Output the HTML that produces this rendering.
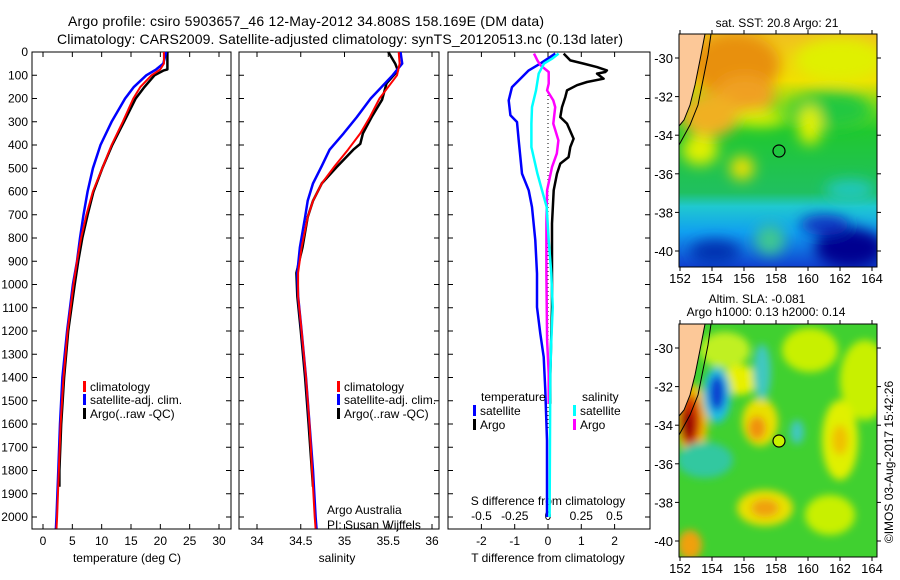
<!DOCTYPE html>
<html><head><meta charset="utf-8"><style>
html,body{margin:0;padding:0;background:#fff;}
svg{display:block;font-family:"Liberation Sans",sans-serif;}
text{fill:#000;}
</style></head><body>
<svg id="fig" width="900" height="580" viewBox="0 0 900 580" xmlns="http://www.w3.org/2000/svg">
<defs>
<filter id="bl" x="-50%" y="-50%" width="200%" height="200%"><feGaussianBlur stdDeviation="7"/></filter>
<filter id="bl2" x="-50%" y="-50%" width="200%" height="200%"><feGaussianBlur stdDeviation="4"/></filter>
<clipPath id="c1"><rect x="679" y="34" width="198" height="233"/></clipPath>
<clipPath id="c2"><rect x="679" y="324" width="198" height="233"/></clipPath>
<linearGradient id="sstg" x1="0" y1="0" x2="0" y2="1">
<stop offset="0" stop-color="#f0c020"/><stop offset="0.2" stop-color="#f0e000"/>
<stop offset="0.33" stop-color="#60d820"/><stop offset="0.42" stop-color="#20c830"/>
<stop offset="0.68" stop-color="#20c060"/><stop offset="0.74" stop-color="#20c8d0"/>
<stop offset="0.85" stop-color="#10a0f0"/><stop offset="1" stop-color="#1040d0"/>
</linearGradient>
</defs>
<text x="68" y="26" font-size="14" textLength="476">Argo profile: csiro 5903657_46 12-May-2012 34.808S 158.169E (DM data)</text>
<text x="57" y="44" font-size="14" textLength="566">Climatology: CARS2009. Satellite-adjusted climatology: synTS_20120513.nc (0.13d later)</text>
<g id="panels"></g>

<g>
<g clip-path="url(#c1)">
<rect x="679" y="34" width="198" height="233" fill="url(#sstg)"/>
<g filter="url(#bl)">
<ellipse cx="735" cy="65" rx="45" ry="32" fill="#e89010"/>
<ellipse cx="745" cy="95" rx="30" ry="20" fill="#f0a020"/>
<ellipse cx="710" cy="115" rx="30" ry="22" fill="#f0b020"/>
<ellipse cx="840" cy="60" rx="45" ry="22" fill="#e0f000"/>
<ellipse cx="830" cy="110" rx="40" ry="18" fill="#20c840"/>
<ellipse cx="810" cy="125" rx="12" ry="20" fill="#e0f000"/>
<ellipse cx="760" cy="118" rx="25" ry="8" fill="#d8f000"/>
<ellipse cx="700" cy="150" rx="18" ry="15" fill="#e0f000"/>
<ellipse cx="742" cy="168" rx="12" ry="12" fill="#f0e000"/>
<ellipse cx="850" cy="190" rx="25" ry="10" fill="#20c8c0"/>
<ellipse cx="850" cy="248" rx="35" ry="20" fill="#000090"/>
<ellipse cx="825" cy="225" rx="25" ry="10" fill="#1030c0"/>
<ellipse cx="715" cy="252" rx="25" ry="12" fill="#0030b0"/>
<ellipse cx="770" cy="240" rx="15" ry="15" fill="#40c890"/>
</g>
<polygon points="679,34 705,34 700,60 695,85 690,105 684,120 679,126" fill="#fcc898"/>
<polyline points="705,34 700,60 695,85 690,105 684,120 679,126" fill="none" stroke="#000" stroke-width="1"/>
<polyline points="711,34 708,55 703,80 698,105 690,125 679,145" fill="none" stroke="#000" stroke-width="1"/>
<circle cx="779" cy="151" r="6" fill="none" stroke="#000" stroke-width="1.2"/>
</g>
<rect x="679" y="34" width="198" height="233" fill="none" stroke="#000"/>
</g>

<g>
<g clip-path="url(#c2)">
<rect x="679" y="324" width="198" height="233" fill="#40d030"/>
<g filter="url(#bl2)">
<ellipse cx="725" cy="350" rx="25" ry="18" fill="#c0f020"/>
<ellipse cx="740" cy="380" rx="18" ry="15" fill="#e8f000"/>
<ellipse cx="865" cy="380" rx="25" ry="40" fill="#c8f000"/>
<ellipse cx="810" cy="350" rx="28" ry="22" fill="#c8f000"/>
<ellipse cx="840" cy="440" rx="18" ry="40" fill="#e0f000"/>
<ellipse cx="840" cy="440" rx="8" ry="15" fill="#f0c000"/>
<ellipse cx="692" cy="420" rx="16" ry="36" fill="#f0c000"/>
<ellipse cx="690" cy="420" rx="11" ry="26" fill="#d03000"/>
<ellipse cx="688" cy="425" rx="6" ry="15" fill="#900000"/>
<ellipse cx="717" cy="395" rx="14" ry="28" fill="#20c0e0"/>
<ellipse cx="717" cy="393" rx="8" ry="18" fill="#1040d0"/>
<ellipse cx="760" cy="422" rx="18" ry="24" fill="#e8e000"/>
<ellipse cx="757" cy="428" rx="9" ry="12" fill="#f09010"/>
<ellipse cx="705" cy="460" rx="28" ry="18" fill="#30c8a0"/>
<ellipse cx="765" cy="508" rx="28" ry="18" fill="#e8e000"/>
<ellipse cx="765" cy="508" rx="14" ry="9" fill="#f0a010"/>
<ellipse cx="762" cy="372" rx="9" ry="28" fill="#40c8c0"/>
<ellipse cx="797" cy="432" rx="7" ry="12" fill="#40c8c0"/>
<ellipse cx="690" cy="545" rx="12" ry="15" fill="#f0a010"/>
<ellipse cx="830" cy="515" rx="25" ry="20" fill="#c8f000"/>
</g>
<polygon points="679,324 705,324 700,350 695,375 690,395 684,410 679,416" fill="#fcc898"/>
<polyline points="705,324 700,350 695,375 690,395 684,410 679,416" fill="none" stroke="#000" stroke-width="1"/>
<polyline points="711,324 708,345 703,370 698,395 690,415 679,435" fill="none" stroke="#000" stroke-width="1"/>
<circle cx="779" cy="441" r="6" fill="#c8f000" stroke="#000" stroke-width="1.2"/>
</g>
<rect x="679" y="324" width="198" height="233" fill="none" stroke="#000"/>
</g>
<text x="777" y="27" font-size="12" text-anchor="middle">sat. SST: 20.8 Argo: 21</text>
<text x="757" y="303" font-size="12" text-anchor="middle">Altim. SLA: -0.081</text>
<text x="766" y="316" font-size="12" text-anchor="middle">Argo h1000: 0.13 h2000: 0.14</text>
<text transform="translate(893,462) rotate(-90)" font-size="12" text-anchor="middle">©IMOS 03-Aug-2017 15:42:26</text>
<g id="mapaxes"></g>
</svg>
<script>
const NS="http://www.w3.org/2000/svg";
const svg=document.getElementById('fig');
const panels=document.getElementById('panels');
function mk(tag,attrs,parent,txt){const e=document.createElementNS(NS,tag);for(const k in attrs)e.setAttribute(k,attrs[k]);if(txt!==undefined)e.textContent=txt;(parent||svg).appendChild(e);return e;}

const Y0=52,YPER=(517-52)/2000;
function yD(d){return Y0+d*YPER;}

// temperature
const tDepthClim=[0,50,75,100,150,200,300,400,500,600,700,800,900,1000,1200,1400,1600,1800,2000,2050];
const tempClim=[20.6,20.6,20.0,18.5,16.6,15.4,13.6,11.7,10.1,8.5,7.4,6.5,5.8,5.2,4.2,3.5,3.0,2.7,2.4,2.3];
const tempSat=[21.0,20.5,19.3,17.6,15.5,14.0,11.7,9.8,8.5,7.6,6.9,6.3,5.8,5.1,4.1,3.3,2.9,2.6,2.3,2.2];
const tDepthArgo=[0,75,80,100,150,200,300,400,500,600,700,800,900,1000,1200,1400,1600,1800,1870];
const tempArgo=[21.2,21.2,20.5,19.0,17.3,15.8,13.8,11.8,10.1,8.6,7.6,6.7,6.0,5.4,4.3,3.6,3.1,2.8,2.8];
const tempTicks=[0,5,10,15,20,25,30];
const depthTicks=[0,100,200,300,400,500,600,700,800,900,1000,1100,1200,1300,1400,1500,1600,1700,1800,1900,2000];

// salinity
const sDepthClim=[0,50,100,200,280,350,420,490,565,640,710,840,950,1050,1200,1400,1600,1800,2000,2050];
const salClim=[35.62,35.63,35.60,35.40,35.29,35.18,35.04,34.89,34.74,34.64,34.58,34.51,34.47,34.47,34.51,34.56,34.60,34.63,34.66,34.67];
const salSat=[35.64,35.66,35.55,35.30,35.14,34.99,34.83,34.74,34.64,34.58,34.55,34.49,34.46,34.47,34.51,34.56,34.60,34.64,34.67,34.68];
const sDepthArgo=[0,50,80,135,205,280,350,395,420,495,565,640,710,840,950,1050,1200,1400,1600,1870];
const salArgo=[35.50,35.58,35.61,35.48,35.43,35.31,35.21,35.18,35.10,34.91,34.74,34.64,34.58,34.52,34.45,34.46,34.50,34.55,34.59,34.64];
const salTicks=[34,34.5,35,35.5,36];

// differences
const tdArgoDepth=[7,36,50,65,79,86,93,115,129,143,165,194,237,280,308,373,409,452,480,523,595,738,1097,1384,1513];
const tDiffArgo=[0.47,0.67,1.07,1.47,1.77,1.72,1.47,1.67,1.17,0.87,0.57,0.52,0.42,0.37,0.57,0.77,0.67,0.62,0.37,0.27,0.17,0.12,0.12,0.07,0.07];
const tdSatDepth=[7,21,50,79,108,151,208,272,301,380,523,595,667,810,953,1097,1211,1312,1455,1670,2000];
const tDiffSat=[0.22,0.07,-0.23,-0.58,-0.78,-1.08,-1.18,-1.13,-0.93,-0.88,-0.78,-0.58,-0.48,-0.38,-0.33,-0.33,-0.23,-0.13,-0.08,-0.03,-0.03];
const sdSatDepth=[7,29,50,93,165,237,308,409,523,595,667,810,953,1097,1240,1384,2000];
const sDiffSat=[0.08,0.03,-0.03,-0.07,-0.09,-0.12,-0.125,-0.125,-0.08,-0.045,-0.01,0.005,0.025,0.035,0.025,0.017,0.012];
const sdArgoDepth=[7,36,57,86,136,165,208,237,308,380,437,495,595,738,953,1240,1384,1513];
const sDiffArgo=[-0.105,-0.08,-0.056,0.005,0.005,-0.007,0.04,0.054,0.04,0.078,0.066,0.03,-0.007,-0.012,-0.012,-0.007,0.005,0.005];
const tDiffTicks=[-2,-1,0,1,2];
const sDiffTicks=[-0.5,-0.25,0,0.25,0.5];

const xT=v=>43+v*(176/30);
const xS=v=>257+(v-34)*87.5;
const xTD=v=>548+v*33.3;
const xSD=v=>548+v*133;

function box(x1,x2,name){
  const r=mk('rect',{x:x1,y:Y0,width:x2-x1,height:529-Y0,fill:'none',stroke:'#000','stroke-width':1},panels);
  
  
  depthTicks.forEach(d=>{
    const y=yD(d);
    const t1=mk('line',{x1:x1,x2:x1+5,y1:y,y2:y,stroke:'#000'},panels);
    
    
    const t2=mk('line',{x1:x2-5,x2:x2,y1:y,y2:y,stroke:'#000'},panels);
    
    
  });
}
function xticks(vals,fx,yLab){
  vals.forEach(v=>{
    const x=fx(v);
    const a=mk('line',{x1:x,x2:x,y1:529,y2:524,stroke:'#000'},panels);
    
    
    const b=mk('line',{x1:x,x2:x,y1:Y0,y2:Y0+5,stroke:'#000'},panels);
    
    
    const t=mk('text',{x:x,y:yLab,'font-size':12,'text-anchor':'middle'},panels,String(v));
    
    
  });
}
function line(depths,vals,fx,color,w,name){
  const pts=depths.map((d,i)=>fx(vals[i]).toFixed(1)+','+yD(d).toFixed(1)).join(' ');
  const p=mk('polyline',{points:pts,fill:'none',stroke:color,'stroke-width':w,'stroke-linejoin':'round'},panels);
  
  
}
function legend(x,y,color,label){
  const r=mk('rect',{x:x,y:y-10,width:3,height:11,fill:color},panels);
  
  
  const t=mk('text',{x:x+7,y:y,'font-size':12},panels,label);
  
  
}
function txt(x,y,s,anchor,name){
  const t=mk('text',{x:x,y:y,'font-size':12,'text-anchor':anchor||'start'},panels,s);
  
  
}

box(32,231,'temperature-panel');
depthTicks.forEach(d=>{
  const t=mk('text',{x:28,y:yD(d)+4,'font-size':12,'text-anchor':'end'},panels,String(d));
  
  
});
xticks(tempTicks,xT,545);
txt(127,562,'temperature (deg C)','middle','temperature-axis-title');
line(tDepthArgo,tempArgo,xT,'#000',2.5,'temp-argo-line');
line(tDepthClim,tempSat,xT,'#0000ff',2.5,'temp-satellite-line');
line(tDepthClim,tempClim,xT,'#ff0000',2,'temp-climatology-line');
legend(83,391,'#ff0000','climatology');
legend(83,404,'#0000ff','satellite-adj. clim.');
legend(83,418,'#000','Argo(..raw -QC)');

box(239,439,'salinity-panel');
xticks(salTicks,xS,545);
txt(337,562,'salinity','middle','salinity-axis-title');
line(sDepthArgo,salArgo,xS,'#000',2.5,'sal-argo-line');
line(sDepthClim,salSat,xS,'#0000ff',2.5,'sal-satellite-line');
line(sDepthClim,salClim,xS,'#ff0000',2,'sal-climatology-line');
legend(337,391,'#ff0000','climatology');
legend(337,404,'#0000ff','satellite-adj. clim.');
legend(337,418,'#000','Argo(..raw -QC)');
txt(327,514,'Argo Australia','start','credit-line-1');
txt(327,529,'PI: Susan Wijffels','start','credit-line-2');

box(448,650,'difference-panel');
xticks(tDiffTicks,xTD,545);
sDiffTicks.forEach(v=>{
  const t=mk('text',{x:xSD(v),y:520,'font-size':12,'text-anchor':'middle'},panels,String(v));
  
  
});
txt(548,505,'S difference from climatology','middle','s-diff-axis-title');
txt(548,562,'T difference from climatology','middle','t-diff-axis-title');
const zl=mk('line',{x1:548,x2:548,y1:95,y2:430,stroke:'#000','stroke-dasharray':'1,3'},panels);


line(tdArgoDepth,tDiffArgo,xTD,'#000',2.5,'tdiff-argo-line');
line(tdSatDepth,tDiffSat,xTD,'#0000ff',2.5,'tdiff-satellite-line');
line(sdArgoDepth,sDiffArgo,xSD,'#ff00ff',2.5,'sdiff-argo-line');
line(sdSatDepth,sDiffSat,xSD,'#00ffff',2.5,'sdiff-satellite-line');
txt(481,401,'temperature','start','temperature-legend-title');
legend(473,415,'#0000ff','satellite');
legend(473,429,'#000','Argo');
txt(582,401,'salinity','start','salinity-legend-title');
legend(573,415,'#00ffff','satellite');
legend(573,429,'#ff00ff','Argo');

const mapLonTicks=[152,154,156,158,160,162,164];
const mapLatTicks=[-30,-32,-34,-36,-38,-40];
const ma=document.getElementById('mapaxes');
[[34,267,58,'sst'],[324,557,348,'sla']].forEach(([top,bot,lat30,nm])=>{
  mapLonTicks.forEach(l=>{
    const x=680+(l-152)*16;
    const a=mk('line',{x1:x,x2:x,y1:bot,y2:bot+4,stroke:'#000'},ma);
    
    
    const b=mk('line',{x1:x,x2:x,y1:top-4,y2:top,stroke:'#000'},ma);
    
    
    const t=mk('text',{x:x,y:bot+16,'font-size':13,'text-anchor':'middle'},ma,String(l));
    
    
  });
  mapLatTicks.forEach(l=>{
    const y=lat30+(-30-l)*19.3;
    const a=mk('line',{x1:675,x2:679,y1:y,y2:y,stroke:'#000'},ma);
    
    
    const b=mk('line',{x1:877,x2:881,y1:y,y2:y,stroke:'#000'},ma);
    
    
    const t=mk('text',{x:673,y:y+5,'font-size':13,'text-anchor':'end'},ma,String(l));
    
    
  });
});
</script>
</body></html>
